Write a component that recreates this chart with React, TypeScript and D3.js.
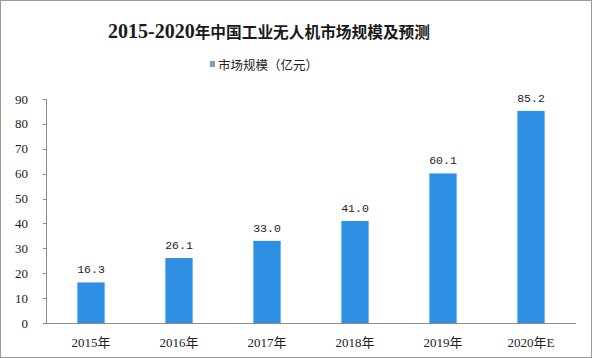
import React from "react";
import * as d3 from "d3";

const categories = ["2015年", "2016年", "2017年", "2018年", "2019年", "2020年E"];
const values = [16.3, 26.1, 33.0, 41.0, 60.1, 85.2];
const valueLabels = ["16.3", "26.1", "33.0", "41.0", "60.1", "85.2"];
const yTicks = [0, 10, 20, 30, 40, 50, 60, 70, 80, 90];
const titleYears = "2015-2020";
const titleText = "年中国工业无人机市场规模及预测";
const legendLabel = "市场规模（亿元）";

const W = 592;
const H = 358;
const M = { left: 46, right: 16, top: 99, bottom: 35 };

export default function App() {
  const x = d3
    .scaleBand<string>()
    .domain(categories)
    .range([M.left + 1, W - M.right - 1])
    .paddingInner(0.69)
    .paddingOuter(0.345);
  const y = d3.scaleLinear().domain([0, 90]).range([H - M.bottom, M.top]);
  const axisColor = "#8c8c8c";
  const barColor = "#2e8fe4";

  return (
    <div style={{ position: "absolute", left: 0, top: 0 }}>
      <svg width={W} height={H} style={{ display: "block" }}>
        <rect x={0} y={0} width={W} height={H} fill="#ffffff" />
        <rect x={0.5} y={0.5} width={W - 1} height={H - 1} fill="none" stroke="#9a9a9a" strokeWidth={1} />
        <text x={108} y={38} fontWeight="bold" fill="#1a1a1a">
          <tspan fontFamily="'Liberation Serif', serif" fontSize={20}>
            {titleYears}
          </tspan>
          <tspan fontFamily="'Noto Sans CJK SC', sans-serif" fontSize={15.7}>
            {titleText}
          </tspan>
        </text>
        <rect x={210} y={61} width={5} height={6} fill="#7d9db5" />
        <text
          x={218}
          y={69.5}
          fontFamily="'Noto Sans CJK SC', sans-serif"
          fontSize={12.5}
          fill="#222"
        >
          {legendLabel}
        </text>
        {/* y axis */}
        <line x1={M.left + 0.5} x2={M.left + 0.5} y1={y(90)} y2={y(0)} stroke={axisColor} />
        {yTicks.map((t) => (
          <g key={t}>
            <line x1={M.left - 3} x2={M.left} y1={Math.round(y(t)) + 0.5} y2={Math.round(y(t)) + 0.5} stroke={axisColor} />
            <text
              x={28}
              y={y(t) + 4.5}
              textAnchor="end"
              fontFamily="'Liberation Serif', serif"
              fontSize={13}
              fill="#222"
            >
              {t}
            </text>
          </g>
        ))}
        {/* x axis */}
        <line x1={M.left} x2={W - M.right} y1={Math.round(y(0)) + 0.5} y2={Math.round(y(0)) + 0.5} stroke={axisColor} />
        {categories.map((c, i) => {
          const bx = x(c) as number;
          const bw = x.bandwidth();
          const cx = bx + bw / 2;
          return (
            <g key={c}>
              <rect x={bx} y={y(values[i])} width={bw} height={y(0) - y(values[i])} fill={barColor} />
              <text
                x={cx}
                y={y(values[i]) - 9}
                textAnchor="middle"
                fontFamily="'Liberation Mono', monospace"
                fontSize={11.5}
                fill="#222"
              >
                {valueLabels[i]}
              </text>
              <text
                x={cx}
                y={347}
                textAnchor="middle"
                fontFamily="'Liberation Serif', 'Noto Sans CJK SC', serif"
                fontSize={13}
                fill="#222"
              >
                {c}
              </text>
            </g>
          );
        })}
      </svg>
    </div>
  );
}
